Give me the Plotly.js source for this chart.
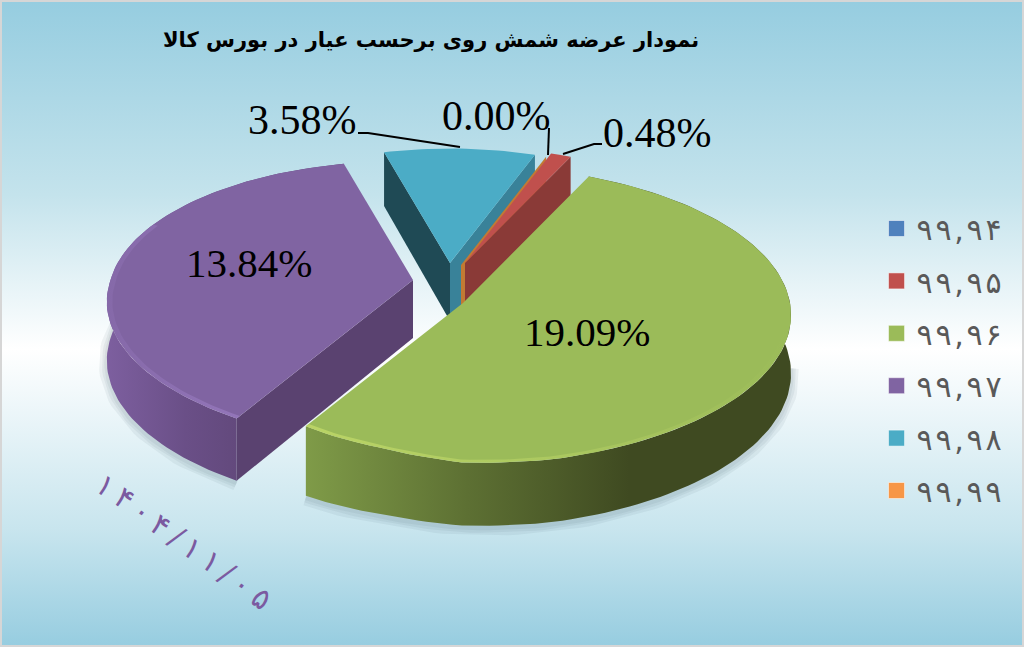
<!DOCTYPE html>
<html><head><meta charset="utf-8">
<script src="https://cdn.plot.ly/plotly-3.0.1.min.js"></script>
<style>
html,body{margin:0;padding:0;background:#d6d6d6;}
#frame{position:absolute;left:2px;top:2px;width:1020px;height:643px;background:linear-gradient(180deg,#96cde0 0%,#c4e3ec 30%,#ffffff 54%,#c8e5ee 82%,#97cde0 100%);}
#c{position:absolute;left:0;top:0;width:1024px;height:647px;}
</style></head><body><div id="frame"></div><div id="c"></div>
<script>
// ---- data ----
const categories = ['۹۹,۹۴','۹۹,۹۵','۹۹,۹۶','۹۹,۹۷','۹۹,۹۸','۹۹,۹۹'];
const values     = [0, 0.48, 19.09, 13.84, 3.58, 0.004];
const colors     = ['#4f81bd','#c0504d','#9bbb59','#8064a2','#4bacc6','#f79646'];
const titleText  = 'نمودار عرضه شمش روی برحسب عیار در بورس کالا';
const dateText   = '۱۴۰۴/۱۱/۰۵';

// ---- projection of the tilted pie ----
const START=19.7, R=327, RY=149, K=0.08, D=58;
const total=values.reduce((a,b)=>a+b,0);
const rad=d=>d*Math.PI/180;
const look={ // per-slice explosion and rim shape, index matches categories
 1:{apex:[465,263],rim:[[0,.84],[400,.84]],wallEnd:'#8a3a37'},
 2:{apex:[463,303],rim:[[0,1],[165,1],[180,.985],[187,.955],[195,.925],[215,.88]],rimWall:['#7f9b48','#5d7033','#3f4a21','#3f4a21'],bevel:'196,220,106',dropLeft:7},
 3:{apex:[413,280],rim:[[210,1],[270,.925],[345,.87]],rimWall:['#7d5f9f','#6a4f87','#5f4677','#5f4677'],wallStart:'#5a4270',bevel:'155,125,195'},
 4:{apex:[450,263],rim:[[0,.83],[400,.83]],wallStart:'#1f4a55',wallEnd:'#398299'},
 5:{apex:[461,265],rim:[[0,.83],[400,.83]],wallEnd:'#c27a33'}
};
function rimF(st,t){
  if(t<=st[0][0])return st[0][1];
  for(let i=1;i<st.length;i++) if(t<=st[i][0]){const a=st[i-1],b=st[i];return a[1]+(b[1]-a[1])*(t-a[0])/(b[0]-a[0]);}
  return st[st.length-1][1];
}
function pt(i,t,s=1){
  const g=look[i],f=rimF(g.rim,t)*s,X=Math.sin(rad(t)),Y=-Math.cos(rad(t)),w=1-K*Y;
  const extra=g.dropLeft&&t>180?g.dropLeft*Math.min(1,(t-180)/30):0;
  return {x:g.apex[0]+R*X/w*f,y:g.apex[1]+RY*Y/w*f,d:D/w+extra};
}
function arc(i,a,b,s=1){const n=Math.max(2,Math.ceil(Math.abs(b-a)/1.5)),o=[];for(let j=0;j<=n;j++)o.push(pt(i,a+(b-a)*j/n,s));return o;}
const traces=[];
function poly(p,color,grad){
  const t={type:'scatter',mode:'lines',x:p.map(q=>q.x),y:p.map(q=>q.y),fill:'toself',line:{width:0},hoverinfo:'skip',showlegend:false};
  if(grad)t.fillgradient={type:'horizontal',colorscale:grad};else t.fillcolor=color;
  traces.push(t);
}
const spans={};let acc=START;
values.forEach((v,i)=>{const a=acc,b=acc+v/total*360;spans[i]=[a,b];acc=b;});

function drawShadow(i,a,b){
  const p=arc(i,a,b);
  [16,10,5].forEach(w=>traces.push({type:'scatter',mode:'lines',x:p.map(q=>q.x),y:p.map(q=>q.y+q.d+2),line:{color:'rgba(50,85,100,0.07)',width:w},hoverinfo:'skip',showlegend:false}));
}
drawShadow(2,92,spans[2][1]);
drawShadow(3,spans[3][0],285);

function wall(i,t,color){
  const g=look[i],e=pt(i,t);
  poly([{x:g.apex[0],y:g.apex[1]},{x:e.x,y:e.y},{x:e.x,y:e.y+e.d},{x:g.apex[0],y:g.apex[1]+D}],color);
}
function slice(i){
  const g=look[i],[a,b]=spans[i];
  if(g.rimWall){
    const top=arc(i,a,b);
    const bot=top.map(q=>({x:q.x,y:q.y+q.d})).reverse();
    const n=g.rimWall.length-1;
    poly(top.concat(bot),null,g.rimWall.map((c,j)=>[j/n,c]));
  }
  if(g.wallStart)wall(i,a,g.wallStart);
  if(g.wallEnd)wall(i,b,g.wallEnd);
  const top=[{x:g.apex[0],y:g.apex[1]}].concat(arc(i,a,b));
  poly(top,colors[i]);
  if(g.bevel){
    const ba=i===2?b:a, bb=i===2?100:295;
    const o=arc(i,ba,bb),n=arc(i,bb,ba,0.982);
    poly(o.concat(n),null,i===2
      ?[[0,`rgba(${g.bevel},0.75)`],[0.45,`rgba(${g.bevel},0.45)`],[1,`rgba(${g.bevel},0)`]]
      :[[0,`rgba(${g.bevel},0.2)`],[1,`rgba(${g.bevel},0.7)`]]);
  }
}
[3,4,5,1,2].forEach(slice);

// legend entries
categories.forEach((c,i)=>traces.push({type:'scatter',mode:'markers',x:[null],y:[null],name:c,legendgroup:c,
  marker:{symbol:'square',size:16,color:colors[i],line:{color:'rgba(255,255,255,0.5)',width:1}},hoverinfo:'skip'}));

const label=(i,x,y,size)=>({text:Math.max(values[i],0).toFixed(2)+'%',x,y,xref:'x',yref:'y',showarrow:false,font:{family:'"Liberation Serif",serif',size,color:'#000'},xanchor:'center',yanchor:'middle'});
const annotations=[
  label(4,302,120,42),label(5,496,116,42),label(1,657,133,42),label(3,249,263,41),label(2,587,332,41),
  {text:dateText,x:184,y:541,xref:'x',yref:'y',showarrow:false,textangle:36,
   font:{family:'"DejaVu Serif",serif',size:30,color:'#7b5aa0'}}
];
const leader=p=>({type:'path',path:p,xref:'x',yref:'y',line:{color:'#000',width:2}});
const layout={
  width:1024,height:647,margin:{l:0,r:0,t:0,b:0},paper_bgcolor:'rgba(0,0,0,0)',plot_bgcolor:'rgba(0,0,0,0)',
  xaxis:{range:[0,1024],visible:false,fixedrange:true},
  yaxis:{range:[647,0],visible:false,fixedrange:true},
  title:{text:titleText,x:0.421,y:0.938,xanchor:'center',yanchor:'middle',font:{family:'"DejaVu Sans",sans-serif',size:21,weight:700,color:'#000'}},
  annotations,
  shapes:[leader('M358,133 L368,133 L460,147'),leader('M549,128 L548,155'),leader('M602,144 L594,144 L563,154')],
  legend:{x:0.856,y:0.687,xanchor:'left',yanchor:'top',bgcolor:'rgba(0,0,0,0)',tracegroupgap:10.4,
    font:{family:'"DejaVu Sans",sans-serif',size:30,color:'#595959'},itemwidth:30},
  showlegend:true
};
Plotly.newPlot('c',traces,layout,{displayModeBar:false,staticPlot:true}).then(()=>{
  document.querySelectorAll('.annotation-text').forEach(n=>{if(n.textContent===dateText)n.setAttribute('textLength','208');});
  document.querySelectorAll('.legendtext').forEach(n=>n.setAttribute('textLength','85'));
  document.querySelectorAll('.legend, .legend *').forEach(n=>{n.removeAttribute('clip-path');n.style.clipPath='none';});
});
</script></body></html>
